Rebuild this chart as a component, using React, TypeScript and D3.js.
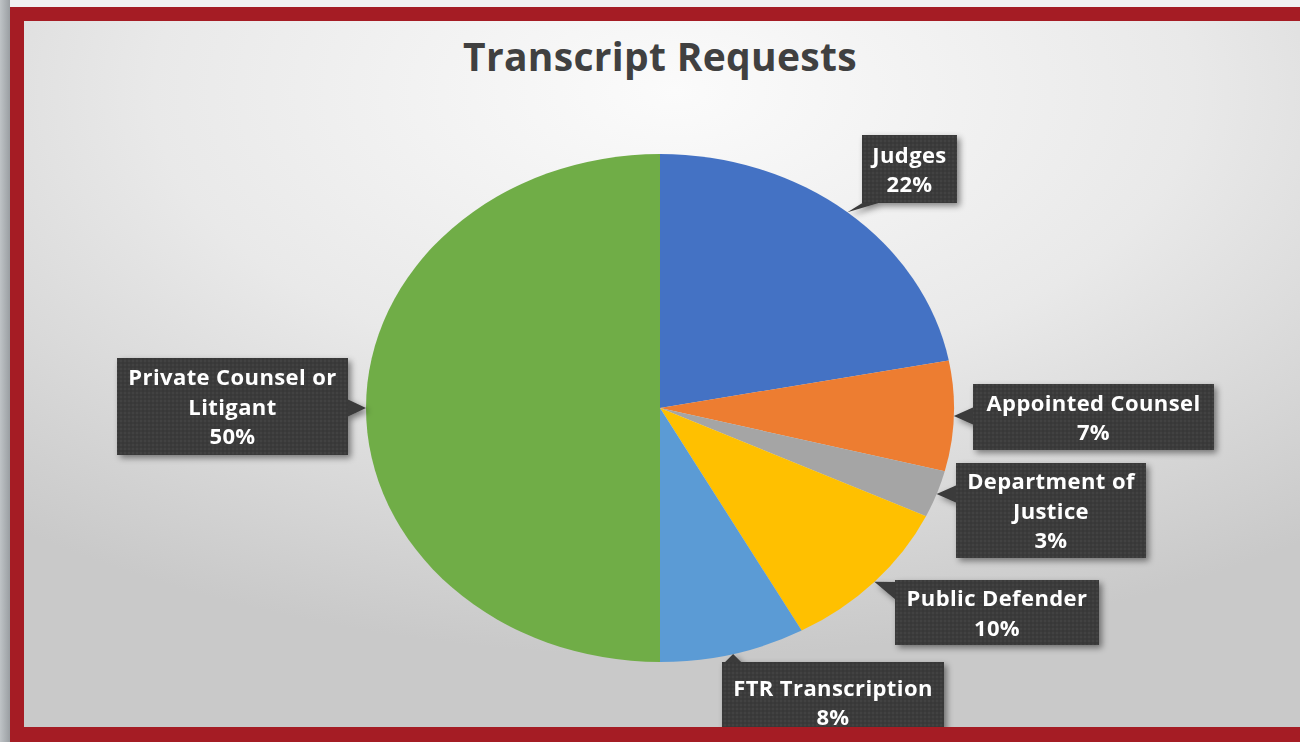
import React from "react";
import * as d3 from "d3";

const categories = [
  "Judges",
  "Appointed Counsel",
  "Department of Justice",
  "Public Defender",
  "FTR Transcription",
  "Private Counsel or Litigant",
];
const values = [22, 7, 3, 10, 8, 50];
const colors = ["#4472C4", "#ED7D31", "#A5A5A5", "#FFC000", "#5B9BD5", "#70AD47"];
const labelLines = [
  ["Judges"],
  ["Appointed Counsel"],
  ["Department of", "Justice"],
  ["Public Defender"],
  ["FTR Transcription"],
  ["Private Counsel or", "Litigant"],
];
const title = "Transcript Requests";

// layout of the callout boxes (x, y, w, h, side of the pointer)
const boxLayout = [
  { x: 862, y: 135, w: 95, h: 68, side: "bottom" },
  { x: 973, y: 384, w: 241, h: 66, side: "left" },
  { x: 956, y: 463, w: 190, h: 95, side: "left" },
  { x: 895, y: 580, w: 204, h: 65, side: "left" },
  { x: 722, y: 662, w: 222, h: 80, side: "top" },
  { x: 117, y: 358, w: 231, h: 97, side: "right" },
];

const W = 1300;
const H = 742;
const cx = 660;
const cy = 408;
const ry = 254;
const rx = 294;
const sx = rx / ry;

export default function App() {
  const pie = d3.pie<number>().sort(null).value((d) => d);
  const arcs = pie(values);
  const arc = d3.arc<d3.PieArcDatum<number>>().innerRadius(0).outerRadius(ry);
  const total = d3.sum(values);

  return (
    <div style={{ position: "absolute", left: 0, top: 0 }}>
      <svg width={W} height={H} style={{ display: "block" }}>
        <defs>
          <radialGradient id="bg" cx="50%" cy="10%" r="80%" fx="50%" fy="10%">
            <stop offset="0%" stopColor="#fbfbfb" />
            <stop offset="50%" stopColor="#e9e9e9" />
            <stop offset="100%" stopColor="#c9c9c9" />
          </radialGradient>
          <linearGradient id="leftShadow" x1="0" x2="1" y1="0" y2="0">
            <stop offset="0%" stopColor="#bfc3c6" />
            <stop offset="100%" stopColor="#9a9ea2" />
          </linearGradient>
          <filter id="shadow" x="-20%" y="-20%" width="150%" height="150%">
            <feDropShadow dx="3" dy="3" stdDeviation="3" floodColor="#000" floodOpacity="0.45" />
          </filter>
          <pattern id="dots" width="4" height="4" patternUnits="userSpaceOnUse">
            <rect width="4" height="4" fill="#3b3b3b" />
            <circle cx="1" cy="1" r="0.8" fill="#4a4a4a" />
            <circle cx="3" cy="3" r="0.8" fill="#333" />
          </pattern>
        </defs>
        <rect x={0} y={0} width={W} height={H} fill="#f1f1f1" />
        <rect x={0} y={0} width={10} height={H} fill="url(#leftShadow)" />
        {/* red frame */}
        <rect x={10} y={7} width={W} height={H} fill="#A51C24" />
        <rect x={24} y={21} width={W} height={706} fill="url(#bg)" />

        <text
          x={cx}
          y={71}
          textAnchor="middle"
          fontFamily="'Open Sans', sans-serif"
          fontWeight="bold"
          fontSize={39}
          letterSpacing={0.3}
          fill="#404040"
        >
          {title}
        </text>

        <g transform={`translate(${cx},${cy}) scale(${sx},1)`}>
          {arcs.map((a, i) => (
            <path key={categories[i]} d={arc(a) || ""} fill={colors[i]} />
          ))}
        </g>

        {arcs.map((a, i) => {
          const mid = (a.startAngle + a.endAngle) / 2;
          const tx = cx + rx * Math.sin(mid);
          const ty = cy - ry * Math.cos(mid);
          const b = boxLayout[i];
          let p1: [number, number];
          let p2: [number, number];
          const half = 9;
          if (b.side === "left" || b.side === "right") {
            const ex = b.side === "left" ? b.x + 1 : b.x + b.w - 1;
            const ay = Math.max(b.y + half + 2, Math.min(b.y + b.h - half - 2, ty));
            p1 = [ex, ay - half];
            p2 = [ex, ay + half];
          } else {
            const ey = b.side === "top" ? b.y + 1 : b.y + b.h - 1;
            const ax = Math.max(b.x + half + 2, Math.min(b.x + b.w - half - 2, tx));
            p1 = [ax - half, ey];
            p2 = [ax + half, ey];
          }
          const lines = [...labelLines[i], `${Math.round((values[i] / total) * 100)}%`];
          const lineH = 29.5;
          const firstY = b.y + (b.h - lineH * lines.length) / 2 + 23;
          return (
            <g key={"lab" + i} filter="url(#shadow)">
              <path
                d={`M${tx},${ty}L${p1[0]},${p1[1]}L${p2[0]},${p2[1]}Z`}
                fill="#3b3b3b"
              />
              <rect x={b.x} y={b.y} width={b.w} height={b.h} fill="url(#dots)" />
              {lines.map((t, j) => (
                <text
                  key={j}
                  x={b.x + b.w / 2}
                  y={firstY + j * lineH}
                  textAnchor="middle"
                  fontFamily="'Open Sans', sans-serif"
                  fontWeight="bold"
                  fontSize={22}
                  letterSpacing={0.4}
                  fill="#ffffff"
                >
                  {t}
                </text>
              ))}
            </g>
          );
        })}

        {/* bottom red band drawn over FTR box */}
        <rect x={10} y={727} width={W} height={H - 727} fill="#A51C24" />
      </svg>
    </div>
  );
}
